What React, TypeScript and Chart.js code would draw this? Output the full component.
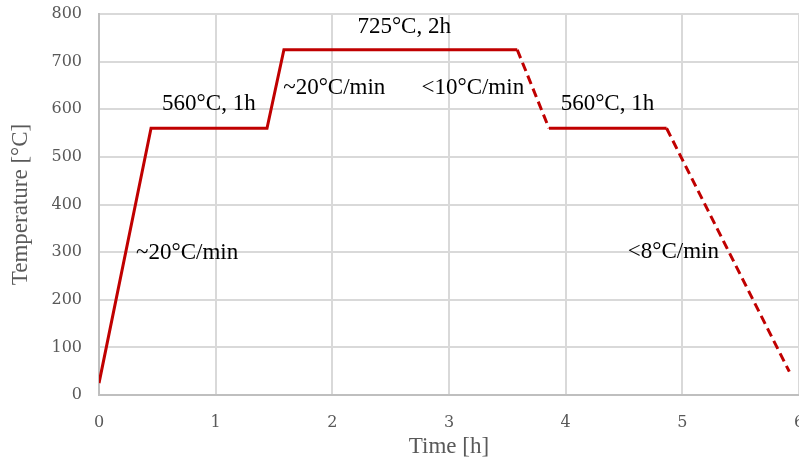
import React, { useEffect, useRef } from "react";
import { Chart, registerables } from "chart.js";

Chart.register(...registerables);

// Heat-treatment profile (time in h, temperature in °C)
const timeH = [0, 0.446, 1.44, 1.585, 3.585, 3.857, 4.865, 5.917];
const tempC = [25, 560, 560, 725, 725, 560, 560, 49];
// style of each segment between consecutive points
const segmentStyle = ["solid", "solid", "solid", "solid", "dashed", "solid", "dashed"];

const xTicks = [0, 1, 2, 3, 4, 5, 6];
const yTicks = [0, 100, 200, 300, 400, 500, 600, 700, 800];

// Annotations (left edge x, vertical centre y in data units)
const noteTexts = ["560°C, 1h", "725°C, 2h", "~20°C/min", "<10°C/min", "560°C, 1h", "~20°C/min", "<8°C/min"];
const noteX = [0.541, 2.215, 1.579, 2.764, 3.957, 0.318, 4.532];
const noteY = [612, 773, 645, 645, 612, 298, 300];

const SERIF = "'Liberation Serif', 'Times New Roman', serif";

const notesPlugin = {
  id: "notes",
  afterDatasetsDraw(chart: any) {
    const { ctx, scales } = chart;
    ctx.save();
    ctx.font = `23px ${SERIF}`;
    ctx.fillStyle = "#000000";
    ctx.textAlign = "left";
    ctx.textBaseline = "middle";
    noteTexts.forEach((t, i) => {
      ctx.fillText(t, scales.x.getPixelForValue(noteX[i]), scales.y.getPixelForValue(noteY[i]));
    });
    ctx.restore();
  },
};

export default function App() {
  const ref = useRef<HTMLCanvasElement>(null);
  useEffect(() => {
    if (!ref.current) return;
    const chart = new Chart(ref.current, {
      type: "line",
      data: {
        datasets: [
          {
            data: timeH.map((t, i) => ({ x: t, y: tempC[i] })),
            borderColor: "#c00000",
            borderWidth: 3,
            pointRadius: 0,
            tension: 0,
            borderJoinStyle: "miter",
            borderCapStyle: "butt",
            segment: {
              borderDash: (c: any) => (segmentStyle[c.p0DataIndex] === "dashed" ? [9, 5] : undefined),
            },
          },
        ],
      },
      options: {
        animation: false,
        responsive: false,
        devicePixelRatio: 1,
        layout: { padding: { top: 14, left: 0, right: 0, bottom: 0 } },
        plugins: { legend: { display: false }, tooltip: { enabled: false } },
        scales: {
          x: {
            type: "linear",
            min: 0,
            max: 6,
            afterBuildTicks: (s: any) => {
              s.ticks = xTicks.map((v) => ({ value: v }));
            },
            afterFit: (s: any) => {
              s.height = 72;
              s.paddingLeft = 0;
              s.paddingRight = 0;
            },
            grid: { color: "#d9d9d9", lineWidth: 2, drawTicks: false },
            border: { color: "#bfbfbf", width: 2 },
            ticks: {
              color: "#595959",
              font: { family: "'DejaVu Serif', serif", size: 16 },
              padding: 18,
              maxRotation: 0,
            },
            title: {
              display: true,
              text: "Time [h]",
              color: "#595959",
              font: { family: SERIF, size: 23 },
              padding: { top: 0, bottom: 6 },
            },
          },
          y: {
            min: 0,
            max: 800,
            afterBuildTicks: (s: any) => {
              s.ticks = yTicks.map((v) => ({ value: v }));
            },
            afterFit: (s: any) => {
              s.width = 99;
              s.paddingTop = 0;
              s.paddingBottom = 0;
            },
            grid: { color: "#d9d9d9", lineWidth: 2, drawTicks: false },
            border: { color: "#bfbfbf", width: 2 },
            ticks: {
              color: "#595959",
              font: { family: "'DejaVu Serif', serif", size: 16 },
              padding: 17,
            },
            title: {
              display: true,
              text: "Temperature [°C]",
              color: "#595959",
              font: { family: SERIF, size: 23 },
              padding: { top: 7, bottom: 0 },
            },
          },
        },
      } as any,
      plugins: [notesPlugin],
    });
    return () => chart.destroy();
  }, []);
  return (
    <div style={{ position: "absolute", left: 0, top: 0, width: 799, height: 467, background: "#fff" }}>
      <canvas ref={ref} width={799} height={467} style={{ display: "block" }} />
    </div>
  );
}
